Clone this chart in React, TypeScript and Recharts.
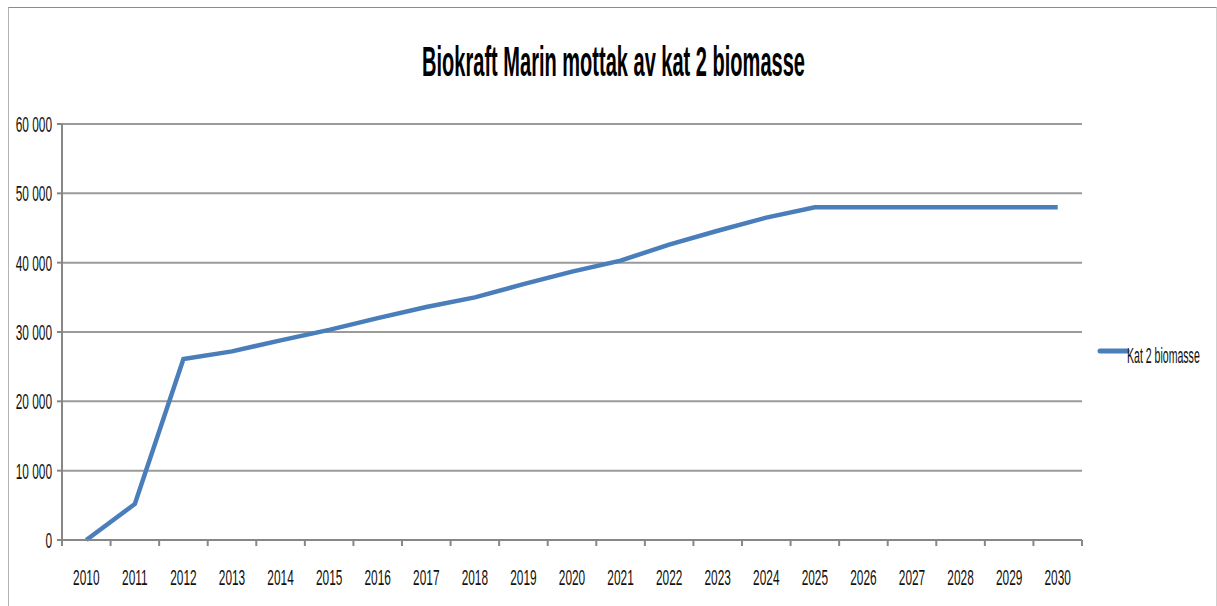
import React from "react";
import { LineChart, Line, XAxis, YAxis, CartesianGrid } from "recharts";

const years = [
    "2010", "2011", "2012", "2013", "2014", "2015", "2016", "2017", "2018", "2019", "2020",
    "2021", "2022", "2023", "2024", "2025", "2026", "2027", "2028", "2029", "2030",
];
const biomasse = [
    0, 5200, 26100, 27200, 28800, 30300, 32000, 33600, 35000, 36900, 38700,
    40300, 42600, 44600, 46500, 48000, 48000, 48000, 48000, 48000, 48000,
];
const yTicks = [0, 10000, 20000, 30000, 40000, 50000, 60000];
const seriesName = "Kat 2 biomasse";
const title = "Biokraft Marin mottak av kat 2 biomasse";

const data = years.map((year, i) => ({ year, value: biomasse[i] }));

const W = 1217;
const H = 606;
const X_AXIS_H = 30;
const margin = { top: 124, right: 135, bottom: 66 - X_AXIS_H, left: 8 };
const Y_AXIS_W = 54;
const plotW = W - margin.left - margin.right - Y_AXIS_W;
const band = plotW / years.length;
const FONT = "'Liberation Sans', Arial, sans-serif";
const AXIS = "#878787";

const fmt = (v: number) => (v === 0 ? "0" : Math.round(v).toLocaleString("en-US").replace(/,/g, " "));

const XTick = (props: any) => {
    const { x, y, payload, index } = props;
    const last = index === years.length - 1;
    return (
        <g>
            <line x1={x - band / 2} x2={x - band / 2} y1={y - 8} y2={y - 2} stroke={AXIS} strokeWidth={2} />
            {last && <line x1={x + band / 2} x2={x + band / 2} y1={y - 8} y2={y - 2} stroke={AXIS} strokeWidth={2} />}
            <g transform={`translate(${x},${y + 37}) scale(0.54,1)`}>
                <text textAnchor="middle" fontSize={22} fill="#111" fontFamily={FONT}>
                    {payload.value}
                </text>
            </g>
        </g>
    );
};

const YTick = (props: any) => {
    const { x, y, payload } = props;
    return (
        <g transform={`translate(${x - 3},${y + 8}) scale(0.54,1)`}>
            <text textAnchor="end" fontSize={22} fill="#111" fontFamily={FONT}>
                {fmt(payload.value)}
            </text>
        </g>
    );
};

export default function App() {
    return (
        <div style={{ position: "relative", width: W, height: H, background: "#fff", overflow: "hidden" }}>
            <style>{`body{margin:0;overflow:hidden}`}</style>
            <div
                style={{
                    position: "absolute",
                    left: 8,
                    top: 7,
                    width: 1207,
                    height: 640,
                    borderTop: "1px solid #8c8c8c",
                    borderLeft: "1px solid #b4b4b4",
                    borderRight: "1px solid #d0d0d0",
                }}
            />
            <svg width={W} height={110} style={{ position: "absolute", left: 0, top: 0 }}>
                <g transform="translate(613.5,76) scale(0.477,1)">
                    <text textAnchor="middle" fontSize={42} fontWeight="bold" fontFamily={FONT} fill="#000">
                        {title}
                    </text>
                </g>
            </svg>
            <div style={{ position: "absolute", left: 0, top: 0 }}>
                <LineChart width={W} height={H} data={data} margin={margin}>
                    <CartesianGrid vertical={false} stroke="#9a9a9a" strokeWidth={2} />
                    <XAxis
                        dataKey="year"
                        scale="band"
                        height={X_AXIS_H}
                        axisLine={{ stroke: AXIS, strokeWidth: 2 }}
                        tickLine={false}
                        tick={<XTick />}
                        interval={0}
                    />
                    <YAxis
                        width={Y_AXIS_W}
                        domain={[0, 60000]}
                        ticks={yTicks}
                        axisLine={{ stroke: AXIS, strokeWidth: 2 }}
                        tickLine={{ stroke: AXIS, strokeWidth: 2 }}
                        tickSize={5}
                        tick={<YTick />}
                        interval={0}
                    />
                    <Line
                        type="linear"
                        dataKey="value"
                        name={seriesName}
                        stroke="#4a7ebb"
                        strokeWidth={4.5}
                        dot={false}
                        isAnimationActive={false}
                    />
                </LineChart>
            </div>
            <svg width={127} height={40} style={{ position: "absolute", left: 1090, top: 332 }}>
                <line x1={10} x2={37} y1={19} y2={19} stroke="#4a7ebb" strokeWidth={5} strokeLinecap="round" />
                <g transform="translate(37,31) scale(0.48,1)">
                    <text fontSize={22} fontFamily={FONT} fill="#111">
                        {seriesName}
                    </text>
                </g>
            </svg>
        </div>
    );
}
